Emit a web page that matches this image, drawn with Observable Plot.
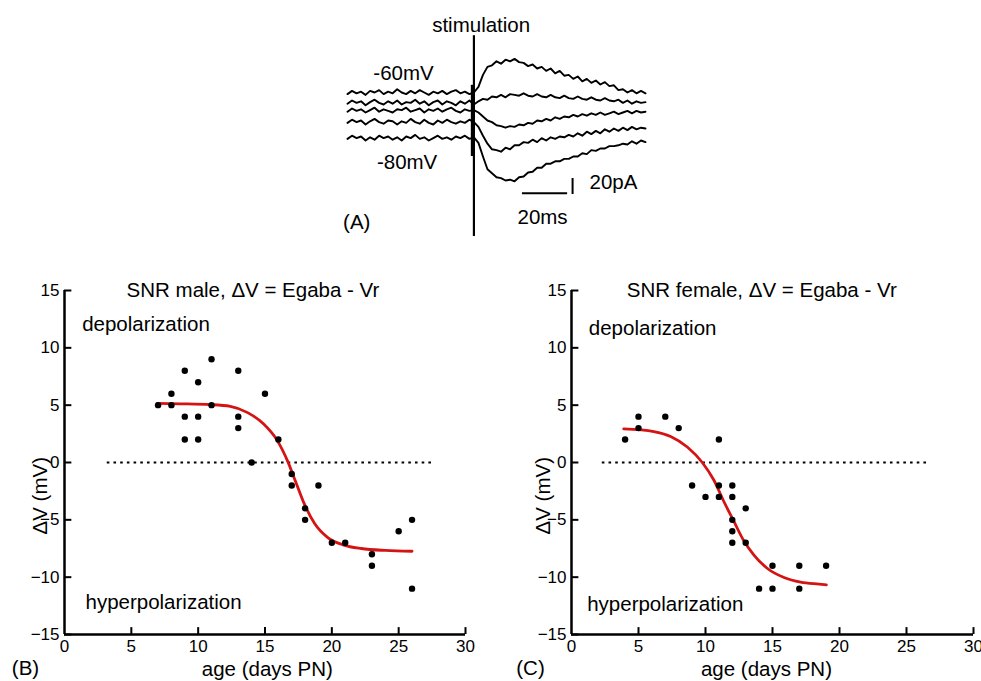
<!DOCTYPE html>
<html><head><meta charset="utf-8">
<script src="https://cdn.jsdelivr.net/npm/d3@7"></script>
<script src="https://cdn.jsdelivr.net/npm/@observablehq/plot@0.6"></script>
<style>
body{margin:0;background:#fff;}
#fig{position:relative;width:981px;height:681px;overflow:hidden;font-family:"Liberation Sans",Arial,sans-serif;}
#fig > div{position:absolute;}
svg{overflow:visible}
</style></head><body>
<div id="fig"><div id="pa" style="left:340px;top:0px"></div><div id="pb" style="left:0px;top:260px"></div><div id="pc" style="left:500px;top:260px"></div></div>
<script>
// ---------- Panel A: voltage-clamp traces (pA), time in ms relative to stimulation ----------
const traceTime = d3.range(-56, 77, 2);
const traceNames = ["-60mV", "-65mV", "-70mV", "-75mV", "-80mV"];
const trace60 = [33,37,34,36,32,37,35,38,33,36,34,39,35,33,37,34,38,35,32,36,34,37,33,36,38,34,36,33,35,
  42,57,67,69,74,71,76,74,77,73,72,68,70,65,67,62,65,59,62,56,57,52,55,49,52,47,50,45,48,43,44,38,39,35,38,34,37,34];
const trace65 = [21,25,22,24,19,23,26,22,20,24,21,25,20,23,22,26,21,24,19,23,25,20,24,22,19,24,21,25,20,
  24,27,26,30,29,32,29,33,32,31,34,31,30,33,30,29,32,29,28,31,28,27,30,27,26,29,26,25,28,25,24,26,22,25,21,24,22,23];
const trace70 = [11,15,12,14,10,13,16,11,14,12,10,14,13,16,11,13,15,10,14,12,15,11,14,16,12,10,14,12,13,
  10,5,0,-2,-6,-7,-9,-7,-8,-5,-6,-3,-4,0,-1,2,0,4,2,5,4,7,5,8,6,9,7,10,7,9,11,8,10,12,9,12,10,11];
const trace75 = [-3,1,-2,0,-5,-1,2,-2,-4,0,-1,-5,-1,-3,2,-2,-4,1,-3,-5,0,-3,1,-2,-4,-1,-3,1,-2,
  -8,-19,-29,-36,-37,-39,-34,-36,-31,-31,-27,-28,-24,-27,-22,-25,-21,-23,-20,-21,-18,-20,-16,-19,-14,-17,-13,-16,-11,-14,-10,-13,-9,-12,-8,-11,-9,-10];
const trace80 = [-23,-19,-22,-20,-25,-21,-24,-19,-22,-20,-24,-21,-25,-20,-22,-18,-23,-21,-25,-22,-19,-23,-21,-24,-20,-22,-19,-23,-21,
  -28,-45,-61,-66,-71,-72,-75,-74,-76,-71,-70,-65,-64,-59,-59,-54,-54,-51,-51,-48,-48,-45,-45,-41,-42,-37,-38,-35,-35,-32,-32,-31,-29,-30,-26,-29,-25,-27];
const scaleBarMs = 20, scaleBarPA = 20;

// ---------- Panel B: SNR male ----------
const maleAge = [7,8,8,9,9,9,10,10,10,11,11,13,13,13,14,15,16,17,17,18,18,19,20,21,23,23,25,26,26];
const maleDV  = [5,6,5,8,4,2,7,4,2,9,5,8,4,3,0,6,2,-1,-2,-4,-5,-2,-7,-7,-8,-9,-6,-5,-11];
const maleFitAge = [6.94,8.7,10.9,12.4,13.7,14.9,15.9,16.7,17.3,17.9,18.7,19.7,20.9,22.2,24,26];
const maleFitDV  = [5.15,5.12,5.05,4.9,4.35,3.35,1.95,0.1,-1.7,-3.5,-5.3,-6.55,-7.2,-7.5,-7.67,-7.74];

// ---------- Panel C: SNR female ----------
const femaleAge = [4,5,5,7,8,11,9,10,11,11,12,12,13,12,12,12,13,14,15,15,17,17,19];
const femaleDV  = [2,4,3,4,3,2,-2,-3,-2,-3,-2,-3,-4,-5,-6,-7,-7,-11,-9,-11,-9,-11,-9];
const femaleFitAge = [3.9,6.15,7.4,8.64,9.76,10.63,11.37,12.12,12.87,13.6,14.6,15.86,17.1,18.47,19.02];
const femaleFitDV  = [2.93,2.7,2.27,1.35,0.0,-1.55,-3.4,-5.14,-6.85,-8.05,-9.22,-10.03,-10.44,-10.61,-10.67];

const xTicks = [0,5,10,15,20,25,30];
const yTicks = [-15,-10,-5,0,5,10,15];

const FONT = "Liberation Sans, Arial, sans-serif";
const BIG = 20.5;
const TICK = 17;

// Panel A
const traces = [trace60, trace65, trace70, trace75, trace80];
const traceRows = traces.flatMap((tr, k) => tr.map((v, i) => ({t: traceTime[i], v, name: traceNames[k]})));
const plotA = Plot.plot({
  width: 320, height: 240,
  marginLeft: 7, marginRight: 15, marginTop: 0, marginBottom: 0,
  style: {fontFamily: FONT, fontSize: BIG + "px", background: "transparent", overflow: "visible"},
  x: {domain: [-56, 76], axis: null},
  y: {domain: [-150, 150], axis: null},
  marks: [
    Plot.line(traceRows, {x: "t", y: "v", z: "name", stroke: "black", strokeWidth: 1.9, strokeLinejoin: "round"}),
    Plot.ruleX([-0.6], {y1: 44, y2: -45, strokeWidth: 3.5, stroke: "black"}),
    Plot.ruleX([0], {y1: 106, y2: -145, strokeWidth: 2.2, stroke: "black"}),
    Plot.ruleY([-91], {x1: 21.5, x2: 21.5 + scaleBarMs, strokeWidth: 2, stroke: "black"}),
    Plot.ruleX([43.7], {y1: -92.5, y2: -92.5 + scaleBarPA, strokeWidth: 2, stroke: "black"}),
    Plot.text(["stimulation"], {x: 3.2, y: 118.5, text: d => d, fontSize: BIG}),
    Plot.text(["-60mV"], {x: -31.2, y: 58.75, text: d => d, fontSize: BIG}),
    Plot.text(["-80mV"], {x: -29.6, y: -52.5, text: d => d, fontSize: BIG}),
    Plot.text([scaleBarPA + "pA"], {x: 51.2, y: -77.5, text: d => d, textAnchor: "start", fontSize: BIG}),
    Plot.text([scaleBarMs + "ms"], {x: 30.4, y: -121, text: d => d, fontSize: BIG}),
    Plot.text(["(A)"], {x: -51.9, y: -127.5, text: d => d, fontSize: BIG})
  ]
});
document.getElementById("pa").appendChild(plotA);

function panel({ages, dvs, fitAges, fitDVs, title, letter, width, marginLeft, marginRight, dotted, titleX, yLabX, ageLabX, letterX, letterY, depolX, hyperX, depolY, hyperY}) {
  const pts = ages.map((a, i) => ({age: a, dv: dvs[i]}));
  const fit = fitAges.map((a, i) => ({age: a, dv: fitDVs[i]}));
  return Plot.plot({
    width, height: 421,
    marginLeft, marginRight, marginTop: 30, marginBottom: 47,
    style: {fontFamily: FONT, fontSize: TICK + "px", background: "transparent", overflow: "visible"},
    x: {domain: [0, 30], axis: null},
    y: {domain: [-15, 15], axis: null},
    marks: [
      Plot.axisX(xTicks, {tickSize: 0, tickPadding: 5, label: null, fontSize: TICK}),
      Plot.axisY(yTicks, {tickSize: 0, tickPadding: 5, label: null, fontSize: TICK}),
      Plot.ruleY(yTicks, {x1: 0, x2: 0.55, strokeWidth: 2, stroke: "black"}),
      Plot.ruleX(xTicks.filter(d => d > 0), {y1: -15, y2: -14.4, strokeWidth: 2, stroke: "black"}),
      Plot.ruleX([0], {y1: -15, y2: 15, strokeWidth: 2.5, stroke: "black"}),
      Plot.ruleY([-15], {x1: 0, x2: 30, strokeWidth: 2.5, stroke: "black"}),
      Plot.ruleY([0], {x1: dotted[0], x2: dotted[1], strokeWidth: 2, stroke: "black", strokeDasharray: "2.6,4.1"}),
      Plot.line(fit, {x: "age", y: "dv", curve: "monotone-x", stroke: "#d41414", strokeWidth: 2.8}),
      Plot.dot(pts, {x: "age", y: "dv", r: 3.2, fill: "black"}),
      Plot.text([title], {x: titleX, y: 15, text: d => d, fontSize: BIG}),
      Plot.text(["depolarization"], {x: depolX, y: depolY, text: d => d, textAnchor: "start", fontSize: BIG}),
      Plot.text(["hyperpolarization"], {x: hyperX, y: hyperY, text: d => d, textAnchor: "start", fontSize: BIG}),
      Plot.text(["\u0394V (mV)"], {x: yLabX, y: -2.9, text: d => d, rotate: -90, fontSize: BIG}),
      Plot.text(["age (days PN)"], {x: ageLabX, y: -18.05, text: d => d, fontSize: BIG}),
      Plot.text([letter], {x: letterX, y: letterY, text: d => d, fontSize: BIG})
    ]
  });
}

document.getElementById("pb").appendChild(panel({
  ages: maleAge, dvs: maleDV, fitAges: maleFitAge, fitDVs: maleFitDV,
  title: "SNR male, \u0394V = Egaba - Vr", letter: "(B)",
  width: 490, marginLeft: 64, marginRight: 25, dotted: [3.2, 27.5],
  titleX: 14.1, yLabX: -1.8, ageLabX: 15.17, letterX: -2.92, letterY: -18.0,
  depolX: 1.32, depolY: 12.07, hyperX: 1.57, hyperY: -12.2
}));
document.getElementById("pc").appendChild(panel({
  ages: femaleAge, dvs: femaleDV, fitAges: femaleFitAge, fitDVs: femaleFitDV,
  title: "SNR female, \u0394V = Egaba - Vr", letter: "(C)",
  width: 481, marginLeft: 71, marginRight: 8, dotted: [2.3, 26.6],
  titleX: 14.2, yLabX: -2.09, ageLabX: 14.55, letterX: -3.06, letterY: -18.0,
  depolX: 1.29, depolY: 11.7, hyperX: 1.17, hyperY: -12.4
}));
</script>
</body></html>
